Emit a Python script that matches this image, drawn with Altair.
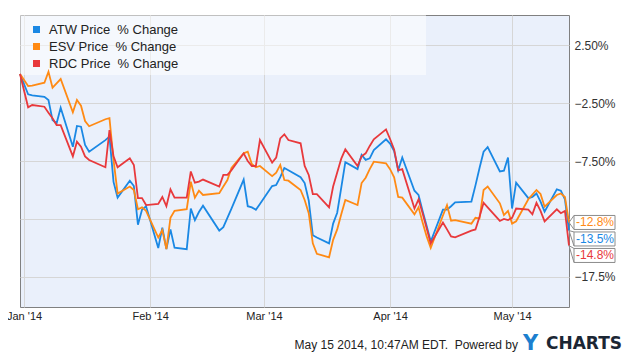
import altair as alt
import pandas as pd

NB = "\u00a0"
series_names = ["ATW Price" + NB + " % Change", "ESV Price" + NB + " % Change", "RDC Price" + NB + " % Change"]
series_colors = ["#1a88e4", "#ff8a14", "#e8393c"]

dates = ["2013-12-31",
 "2014-01-02","2014-01-03","2014-01-06","2014-01-07","2014-01-08","2014-01-09","2014-01-10","2014-01-13","2014-01-14","2014-01-15",
 "2014-01-16","2014-01-17","2014-01-21","2014-01-22","2014-01-23","2014-01-24","2014-01-27","2014-01-28","2014-01-29","2014-01-30","2014-01-31",
 "2014-02-03","2014-02-04","2014-02-05","2014-02-06","2014-02-07","2014-02-10","2014-02-11","2014-02-12","2014-02-13","2014-02-14",
 "2014-02-18","2014-02-19","2014-02-20","2014-02-21","2014-02-24","2014-02-25","2014-02-26","2014-02-27","2014-02-28",
 "2014-03-03","2014-03-04","2014-03-05","2014-03-06","2014-03-07","2014-03-10","2014-03-11","2014-03-12","2014-03-13","2014-03-14",
 "2014-03-17","2014-03-18","2014-03-19","2014-03-20","2014-03-21","2014-03-24","2014-03-25","2014-03-26","2014-03-27","2014-03-28","2014-03-31",
 "2014-04-01","2014-04-02","2014-04-03","2014-04-04","2014-04-07","2014-04-08","2014-04-09","2014-04-10","2014-04-11","2014-04-14",
 "2014-04-15","2014-04-16","2014-04-17","2014-04-21","2014-04-22","2014-04-23","2014-04-24","2014-04-25","2014-04-28","2014-04-29","2014-04-30",
 "2014-05-01","2014-05-02","2014-05-05","2014-05-06","2014-05-07","2014-05-08","2014-05-09","2014-05-12","2014-05-13","2014-05-14","2014-05-15"]

atw = [0,
 -1.75,-1.85,-1.96,-2.24,-3.97,-4.25,-2.9,-6.27,-4.48,-4.54,-6.12,-6.7,-5.7,-5.4,-9.3,-10.66,-9.2,-9.66,-13.0,-11.7,-11.4,
 -15.0,-13.25,-15.1,-13.4,-14.97,-15.1,-11.6,-12.6,-11.9,-11.35,-13.5,-13.2,-12.4,-11.6,-9.1,-11.4,-11.5,-11.7,-11.2,
 -9.66,-9.57,-8.9,-8.1,-8.3,-8.9,-9.4,-10.9,-13.9,-14.1,-14.6,-12.9,-11.96,-9.8,-7.6,-8.2,-6.98,-7.4,-7.27,-6.55,-5.63,
 -6.0,-6.64,-8.3,-7.2,-10.06,-10.43,-11.8,-13.1,-14.45,-11.7,-11.7,-11.4,-11.06,-11.0,-9.6,-8.1,-6.7,-6.3,-8.4,-8.34,-7.2,
 -11.6,-9.37,-10.7,-10.6,-10.3,-11.0,-11.87,-9.94,-10.06,-10.8,-13.5]

esv = [0,
 -1.03,-1.0,-0.75,0.2,-1.18,-0.8,-0.43,-3.3,-2.24,-2.73,-4.05,-4.5,-3.9,-3.8,-7.4,-10.3,-9.7,-10.0,-11.66,-11.5,-11.8,
 -14.1,-13.45,-15.1,-12.4,-11.8,-11.66,-9.28,-10.66,-10.06,-10.43,-10.28,-9.7,-9.14,-8.1,-6.84,-6.7,-7.76,-8.04,-7.93,
 -8.8,-8.5,-7.84,-9.14,-9.2,-10.0,-10.86,-12.0,-14.6,-15.5,-15.8,-14.3,-13.4,-12.1,-10.86,-11.3,-9.4,-8.94,-8.2,-7.56,-7.7,
 -8.2,-8.9,-10.6,-10.66,-12.1,-11.5,-12.8,-14.0,-15.0,-12.2,-11.3,-12.65,-12.6,-12.9,-12.4,-12.44,-10.0,-9.7,-11.15,-12.16,-11.8,
 -12.9,-12.7,-10.8,-10.4,-10.0,-10.34,-11.44,-10.43,-10.3,-10.6,-12.8]

rdc = [0,
 -2.87,-2.67,-2.82,-3.33,-3.82,-4.4,-4.4,-7.1,-5.84,-6.27,-7.1,-7.41,-8.04,-4.83,-7.1,-8.04,-7.27,-7.84,-10.7,-10.7,-11.3,
 -11.2,-10.6,-11.4,-9.94,-10.66,-10.66,-8.4,-9.37,-9.28,-9.1,-9.7,-8.7,-8.7,-8.3,-6.84,-7.5,-7.93,-7.93,-5.69,
 -7.64,-7.2,-5.55,-5.2,-5.69,-5.97,-7.93,-8.7,-10.35,-10.35,-11.5,-9.7,-8.5,-7.3,-6.5,-7.93,-7.1,-6.84,-6.2,-5.63,-4.77,
 -5.6,-6.5,-8.3,-8.2,-11.6,-10.8,-12.0,-13.3,-14.6,-12.8,-13.4,-14.0,-14.08,-13.5,-13.4,-12.3,-11.1,-11.5,-12.67,-12.5,-12.6,
 -12.4,-11.6,-11.7,-12.1,-11.1,-11.8,-12.7,-11.66,-12.0,-11.8,-14.8]

y_ticks = [2.5, -2.5, -7.5, -12.5, -17.5]
x_ticks = ["2014-01-01", "2014-02-01", "2014-03-01", "2014-04-01", "2014-05-01"]
footer_text = "May 15 2014, 10:47AM EDT." + NB + " Powered by"

W, H = 549, 292
Y_DOMAIN = [-20.09, 5.09]
PX_PER_UNIT = H / (Y_DOMAIN[1] - Y_DOMAIN[0])

rows = []
for name, vals in zip(series_names, [atw, esv, rdc]):
    for d, v in zip(dates, vals):
        rows.append({"date": d, "series": name, "value": v})
df = pd.DataFrame(rows)

# end labels, pushed apart so that they do not overlap
last = sorted([(vals[-1], name) for name, vals in zip(series_names, [atw, esv, rdc])], reverse=True)
min_gap = 16.5 / PX_PER_UNIT
labels = []
prev = None
for v, name in last:
    pos = v if prev is None else min(v, prev - min_gap)
    labels.append({"series": name, "value": v, "pos": pos, "label": f"{v:.1f}%"})
    prev = pos
ldf = pd.DataFrame(labels)
half = 7 / PX_PER_UNIT

def dt(s):
    y, m, d = [int(p) for p in s.split("-")]
    return alt.DateTime(year=y, month=m, date=d, utc=True)

xscale = alt.Scale(type="utc", domain=[dt("2013-12-31"), dt("2014-05-15")])
yscale = alt.Scale(domain=Y_DOMAIN, nice=False, zero=False)
color_scale = alt.Scale(domain=series_names, range=series_colors)

xaxis = alt.Axis(values=[dt(s) for s in x_ticks], format="%b '%y", title=None, ticks=False, domain=False,
                 grid=True, gridColor="#d6d6d6", labelFontSize=11, labelColor="#222", labelPadding=3,
                 labelFont="Liberation Sans")
yaxis = alt.Axis(values=y_ticks, orient="right", title=None, ticks=False, domain=False, grid=True,
                 gridColor="#d6d6d6", labelFontSize=12, labelColor="#333", labelPadding=5,
                 labelFont="Liberation Sans",
                 labelExpr="datum.value == -12.5 ? '' : format(datum.value, '.3g') + '%'")

legend_bg = alt.Chart(pd.DataFrame({"a": [0]})).mark_rect(fill="white", opacity=0.5).encode(
    x=alt.value(0), x2=alt.value(406), y=alt.value(0), y2=alt.value(60))

lines = alt.Chart(df).mark_line(strokeWidth=1.8).encode(
    x=alt.X("date:T", scale=xscale, axis=xaxis),
    y=alt.Y("value:Q", scale=yscale, axis=yaxis),
    color=alt.Color("series:N", scale=color_scale, sort=series_names,
                    legend=alt.Legend(orient="none", legendX=10, legendY=8, title=None, symbolType="square",
                                      symbolSize=12.25, symbolStrokeWidth=3.5, labelFontSize=13,
                                      labelFont="Liberation Sans", labelColor="#222", rowPadding=-2,
                                      labelOffset=6, padding=0)),
)

lab_base = alt.Chart(ldf).transform_calculate(top=f"datum.pos + {half}", bot=f"datum.pos - {half}")
boxes = lab_base.mark_rect(fill="white", stroke="#8c8c8c", strokeWidth=1).encode(
    x=alt.value(554), x2=alt.value(595),
    y=alt.Y("top:Q", scale=yscale), y2="bot:Q")
chev1 = lab_base.mark_rule(color="#8c8c8c", strokeWidth=1).encode(
    x=alt.value(549), x2=alt.value(554), y=alt.Y("value:Q", scale=yscale), y2="top:Q")
chev2 = lab_base.mark_rule(color="#8c8c8c", strokeWidth=1).encode(
    x=alt.value(549), x2=alt.value(554), y=alt.Y("value:Q", scale=yscale), y2="bot:Q")
texts = lab_base.mark_text(fontSize=12, font="Liberation Sans", align="center", baseline="middle").encode(
    x=alt.value(575), y=alt.Y("pos:Q", scale=yscale), text="label:N",
    color=alt.Color("series:N", scale=color_scale, legend=None))

foot = alt.Chart(pd.DataFrame({"t": [footer_text]})).mark_text(
    fontSize=12, font="Liberation Sans", color="#222", align="right", baseline="middle").encode(
    x=alt.value(498), y=alt.value(330), text="t:N")
logo_y = alt.Chart(pd.DataFrame({"t": ["Y"]})).mark_text(
    fontSize=21, font="DejaVu Sans", fontWeight="bold", color="#1c7fcf", align="left", baseline="middle").encode(
    x=alt.value(503), y=alt.value(329), text="t:N")
logo_c = alt.Chart(pd.DataFrame({"t": ["CHARTS"]})).mark_text(
    fontSize=17, font="DejaVu Sans", fontWeight="bold", color="#1b2634", align="left", baseline="middle").encode(
    x=alt.value(526), y=alt.value(329), text="t:N")

chart = alt.layer(legend_bg, lines, boxes, chev1, chev2, texts, foot, logo_y, logo_c).resolve_scale(
    color="shared").properties(
    width=W, height=H, autosize=alt.AutoSizeParams(type="none"),
    padding={"left": 12, "top": 7, "right": 58, "bottom": 47},
    background="white",
).configure_view(fill="#eaf0fb", stroke="#808080", strokeWidth=1)

chart.save("out.html", embed_options={"renderer": "svg", "actions": False})
